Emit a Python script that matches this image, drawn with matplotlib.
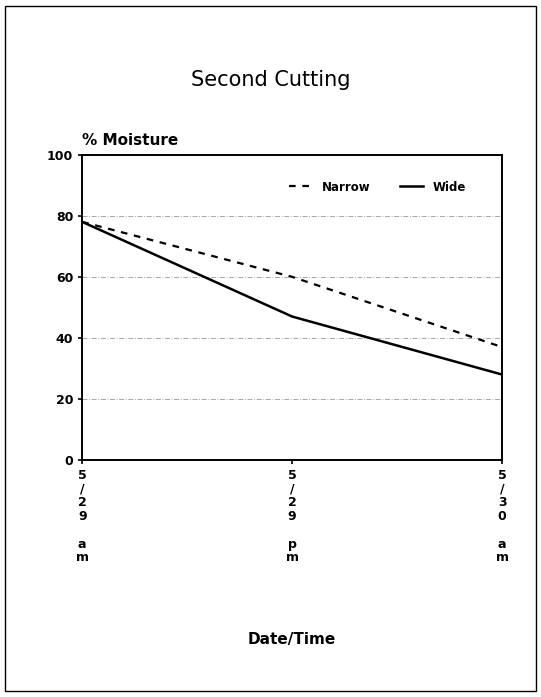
import matplotlib.pyplot as plt
from matplotlib.patches import Rectangle

# Data
times = ['5/29 am', '5/29 pm', '5/30 am']
narrow = [78, 60, 37]
wide = [78, 47, 28]


def vertical_label(s):
    # stack characters one per line, blank line between date and am/pm
    date, half = s.split(' ')
    return '\n'.join(date) + '\n\n' + '\n'.join(half)


fig = plt.figure(figsize=(5.41, 6.97), dpi=100)
ax = fig.add_axes([0.152, 0.340, 0.776, 0.438])

x = range(len(times))
ax.plot(x, narrow, color='black', linestyle=(0, (3, 3)), linewidth=1.6, label='Narrow')
ax.plot(x, wide, color='black', linestyle='-', linewidth=1.8, label='Wide')

ax.set_xlim(0, len(times) - 1)
ax.set_ylim(0, 100)
ax.set_yticks([0, 20, 40, 60, 80, 100])
ax.set_yticklabels(['0', '20', '40', '60', '80', '100'], fontsize=9, fontweight='bold')
ax.set_xticks(list(x))
ax.set_xticklabels([vertical_label(t) for t in times], fontsize=9, fontweight='bold',
                   linespacing=1.07, va='top')

ax.grid(axis='y', color='#999999', linestyle=(0, (6, 2, 1, 2)), linewidth=0.6)
for s in ax.spines.values():
    s.set_linewidth(1.4)
ax.tick_params(direction='out', length=3, width=1.2)

leg = ax.legend(loc='upper right', ncol=2, frameon=False, handlelength=2.0,
                prop={'weight': 'bold', 'size': 8.5}, bbox_to_anchor=(0.94, 0.95),
                columnspacing=2.5)

fig.text(0.5, 0.885, 'Second Cutting', ha='center', va='center', fontsize=15,
         fontweight='medium')
fig.text(0.152, 0.787, '% Moisture', ha='left', va='bottom', fontsize=11, fontweight='bold')
fig.text(0.54, 0.082, 'Date/Time', ha='center', va='center', fontsize=11, fontweight='bold')

# outer frame around the whole chart
fig.patches.append(Rectangle((0.009, 0.008), 0.982, 0.984, transform=fig.transFigure,
                             fill=False, edgecolor='black', linewidth=1.0))

fig.savefig('out.png', dpi=100)
